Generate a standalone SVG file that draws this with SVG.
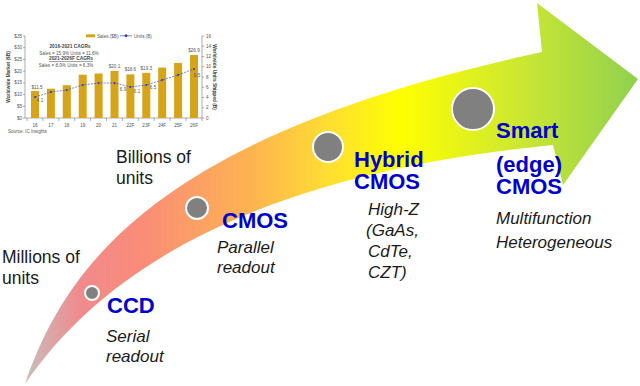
<svg xmlns="http://www.w3.org/2000/svg" width="640" height="386" viewBox="0 0 640 386">
<defs>
<linearGradient id="arrowGrad" gradientUnits="userSpaceOnUse" x1="25" y1="0" x2="640" y2="0">
<stop offset="0" stop-color="#c9bdbd"/>
<stop offset="0.09" stop-color="#f08a8c"/>
<stop offset="0.19" stop-color="#fa8c78"/>
<stop offset="0.37" stop-color="#fdb450"/>
<stop offset="0.5" stop-color="#fde030"/>
<stop offset="0.61" stop-color="#ffff00"/>
<stop offset="0.8" stop-color="#cde830"/>
<stop offset="1" stop-color="#8fd050"/>
</linearGradient>
<marker id="dia" viewBox="-3 -3 6 6" markerWidth="3" markerHeight="3" markerUnits="userSpaceOnUse">
<path d="M0,-2.5 L2.5,0 L0,2.5 L-2.5,0Z" fill="#2a3bbf"/>
</marker>
<style>
.dot{fill:#808080;stroke:#ffffff;stroke-width:2}
.title{font-family:"Liberation Sans",Arial,sans-serif;font-weight:bold;font-size:22px;fill:#0000cc}
.desc{font-family:"Liberation Sans",Arial,sans-serif;font-style:italic;font-size:17px;fill:#1a1a1a}
.note{font-family:"Liberation Sans",Arial,sans-serif;font-size:17.5px;fill:#1a1a1a}
.ct{font-family:"Liberation Sans",Arial,sans-serif;font-size:4.6px;fill:#555}
.ctb{font-family:"Liberation Sans",Arial,sans-serif;font-size:4.8px;fill:#444;font-weight:bold}
.bar{fill:#d6a418}
.ax{stroke:#777;stroke-width:0.6;fill:none}
</style>
</defs>
<rect width="640" height="386" fill="#ffffff"/>

<g id="chart">
<g class="ax">
<line x1="25" y1="36" x2="25" y2="118"/>
<line x1="202" y1="36" x2="202" y2="118"/>
<line x1="25" y1="118" x2="202" y2="118"/>
<path d="M23,36H25M23,47.7H25M23,59.4H25M23,71.1H25M23,82.9H25M23,94.6H25M23,106.3H25M23,118H25"/>
<path d="M202,36H204M202,46.25H204M202,56.5H204M202,66.75H204M202,77H204M202,87.25H204M202,97.5H204M202,107.75H204M202,118H204"/>
<path d="M27,118V121M42.9,118V121M58.8,118V121M74.7,118V121M90.6,118V121M106.5,118V121M122.4,118V121M138.3,118V121M154.2,118V121M170.1,118V121M186,118V121M202,118V121"/>
</g>
<g text-anchor="end" class="ct">
<text x="22" y="37.5" class="ct">$35</text>
<text x="22" y="49.2" class="ct">$30</text>
<text x="22" y="60.9" class="ct">$25</text>
<text x="22" y="72.6" class="ct">$20</text>
<text x="22" y="84.4" class="ct">$15</text>
<text x="22" y="96.1" class="ct">$10</text>
<text x="22" y="107.8" class="ct">$5</text>
<text x="22" y="119.5" class="ct">$0</text>
</g>
<g class="ct">
<text x="206" y="37.5" class="ct">16</text>
<text x="206" y="47.8" class="ct">14</text>
<text x="206" y="58" class="ct">12</text>
<text x="206" y="68.3" class="ct">10</text>
<text x="206" y="78.5" class="ct">8</text>
<text x="206" y="88.8" class="ct">6</text>
<text x="206" y="99" class="ct">4</text>
<text x="206" y="109.3" class="ct">2</text>
<text x="206" y="119.5" class="ct">0</text>
</g>
<g text-anchor="middle">
<text x="35" y="127" class="ct">16</text>
<text x="50.9" y="127" class="ct">17</text>
<text x="66.8" y="127" class="ct">18</text>
<text x="82.7" y="127" class="ct">19</text>
<text x="98.6" y="127" class="ct">20</text>
<text x="114.5" y="127" class="ct">21</text>
<text x="130.4" y="127" class="ct">22F</text>
<text x="146.3" y="127" class="ct">23F</text>
<text x="162.2" y="127" class="ct">24F</text>
<text x="178.1" y="127" class="ct">25F</text>
<text x="194" y="127" class="ct">26F</text>
</g>
<g>
<rect class="bar" x="31" y="91" width="8" height="27"/>
<rect class="bar" x="46.9" y="88.7" width="8" height="29.3"/>
<rect class="bar" x="62.8" y="85.2" width="8" height="32.8"/>
<rect class="bar" x="78.7" y="74.7" width="8" height="43.3"/>
<rect class="bar" x="94.6" y="73.5" width="8" height="44.5"/>
<rect class="bar" x="110.5" y="70.9" width="8" height="47.1"/>
<rect class="bar" x="126.4" y="74.4" width="8" height="43.6"/>
<rect class="bar" x="142.3" y="72.8" width="8" height="45.2"/>
<rect class="bar" x="158.2" y="67.6" width="8" height="50.4"/>
<rect class="bar" x="174.1" y="62.9" width="8" height="55.1"/>
<rect class="bar" x="190" y="55" width="8" height="63"/>
</g>
<polyline points="35,97 50.9,92 66.8,90 82.7,85 98.6,83 114.5,83 130.4,87 146.3,85 162.2,80 178.1,75 194,69" fill="none" stroke="#3b4fd0" stroke-width="0.7" stroke-dasharray="2 1.2" marker-start="url(#dia)" marker-mid="url(#dia)" marker-end="url(#dia)"/>
<g text-anchor="middle">
<text x="37" y="89" class="ct">$11.5</text>
<text x="114.5" y="67.5" class="ct">$20.1</text>
<text x="130.4" y="71" class="ct">$18.6</text>
<text x="146.3" y="69.5" class="ct">$19.3</text>
<text x="194" y="52" class="ct">$26.9</text>
<text x="40" y="102" class="ct">4.1</text>
<text x="123" y="91" class="ct">6.9</text>
<text x="137" y="92.5" class="ct">6.1</text>
<text x="153" y="89" class="ct">6.5</text>
<text x="197" y="77" class="ct">9.5</text>
</g>
<rect x="86" y="34.3" width="9" height="3" fill="#d6a418"/>
<text x="97" y="37.6" class="ct">Sales ($B)</text>
<line x1="120" y1="35.8" x2="132" y2="35.8" stroke="#3b4fd0" stroke-width="0.7" marker-mid="url(#dia)"/>
<path d="M126,34 L127.8,35.8 L126,37.6 L124.2,35.8Z" fill="#2a3bbf"/>
<text x="134" y="37.6" class="ct">Units (B)</text>
<g text-anchor="middle">
<text x="70" y="48" class="ctb">2016-2021 CAGRs</text>
<text x="69" y="54.5" class="ct">Sales = 15.9%  Units = 11.6%</text>
<text x="71" y="60" class="ctb" text-decoration="underline">2021-2026F CAGRs</text>
<text x="66" y="66.5" class="ct">Sales = 8.0%  Units = 6.3%</text>
</g>
<text transform="translate(9.5,77) rotate(-90)" text-anchor="middle" class="ctb">Worldwide Market ($B)</text>
<text transform="translate(213,77) rotate(90)" text-anchor="middle" class="ctb">Worldwide Units Shipped (B)</text>
<text x="8" y="133" class="ct">Source: IC Insights</text>
</g>

<g id="connectors">
<path id="bigArrow" d="M25,384 C70,250 180,130 542,52 L537,3 L638,79 L563,185 L553,145 C300,170 120,245 25,384 Z" fill="url(#arrowGrad)"/>
</g>

<g id="scale-labels">
<text class="note" x="2" y="263">Millions of</text>
<text class="note" x="2" y="284">units</text>
<text class="note" x="116" y="163">Billions of</text>
<text class="note" x="116" y="184">units</text>
</g>

<g id="node-ccd">
<circle class="dot" cx="92" cy="293" r="7"/>
<text class="title" x="107" y="313">CCD</text>
<text class="desc" x="106" y="342">Serial</text>
<text class="desc" x="106" y="362">readout</text>
</g>

<g id="node-cmos">
<circle class="dot" cx="197" cy="208" r="11"/>
<text class="title" x="222" y="228">CMOS</text>
<text class="desc" x="217" y="253">Parallel</text>
<text class="desc" x="217" y="273">readout</text>
</g>

<g id="node-hybrid">
<circle class="dot" cx="328" cy="147" r="15"/>
<text class="title" x="354" y="167">Hybrid</text>
<text class="title" x="354" y="189">CMOS</text>
<text class="desc" x="368" y="215">High-Z</text>
<text class="desc" x="366" y="236">(GaAs,</text>
<text class="desc" x="368" y="257">CdTe,</text>
<text class="desc" x="368" y="278">CZT)</text>
</g>

<g id="node-smart">
<circle class="dot" cx="473" cy="109" r="21"/>
<text class="title" x="496" y="138">Smart</text>
<text class="title" x="496" y="172">(edge)</text>
<text class="title" x="496" y="194">CMOS</text>
<text class="desc" x="496" y="224">Multifunction</text>
<text class="desc" x="496" y="248">Heterogeneous</text>
</g>
</svg>
